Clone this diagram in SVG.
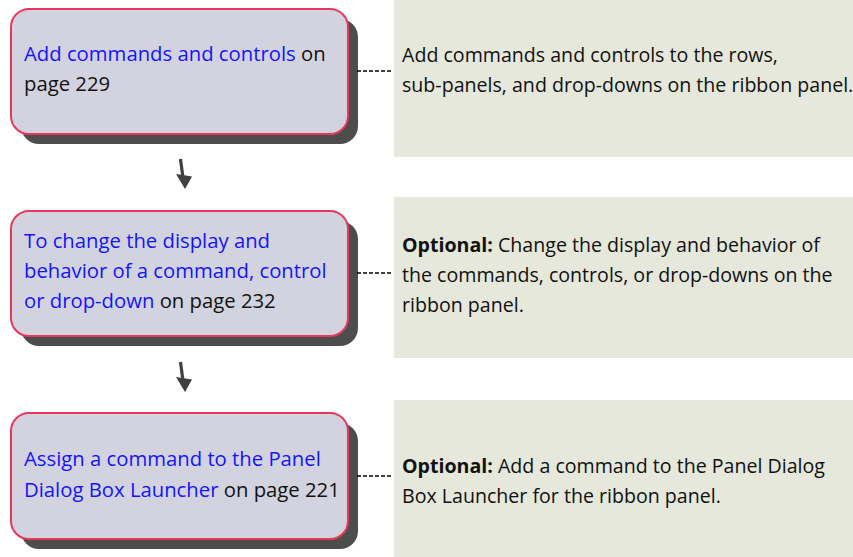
<svg xmlns="http://www.w3.org/2000/svg" width="853" height="557" viewBox="0 0 853 557">
<defs>
<style>
.shadow{fill:#4d4d4d}
.box{fill:#d3d3df;stroke:#e6385c;stroke-width:2}
.panel{fill:#e5e8da}
.t{font-family:"Open Sans","Liberation Sans",sans-serif;font-size:20px;fill:#111}
.bt{font-size:20.3px}
.pt{font-size:19.6px}
.lnk{fill:#1414ff}
.b{font-weight:bold}
.dash{stroke:#000;stroke-width:1.5;stroke-dasharray:4 2;fill:none}
.arr{stroke:#404040;stroke-width:3.2;fill:none}
.head{fill:#404040}
</style>
</defs>
<rect width="853" height="557" fill="#fff"/>
<g id="panel1"><rect class="panel" x="394" y="0" width="459" height="157"/>
<text class="t pt" x="402" y="62">Add commands and controls to the rows,</text>
<text class="t pt" x="402" y="92">sub-panels, and drop-downs on the ribbon panel.</text></g>
<g id="panel2"><rect class="panel" x="394" y="197" width="459" height="161"/>
<text class="t pt" x="402" y="252"><tspan class="b">Optional:</tspan> Change the display and behavior of</text>
<text class="t pt" x="402" y="282">the commands, controls, or drop-downs on the</text>
<text class="t pt" x="402" y="312">ribbon panel.</text></g>
<g id="panel3"><rect class="panel" x="394" y="400" width="459" height="157"/>
<text class="t pt" x="402" y="473"><tspan class="b">Optional:</tspan> Add a command to the Panel Dialog</text>
<text class="t pt" x="402" y="503">Box Launcher for the ribbon panel.</text></g>
<g id="node1"><rect class="shadow" x="21" y="19" width="337" height="125" rx="18"/>
<rect class="box" x="11" y="9" width="337" height="125" rx="18"/>
<text class="t bt" x="24" y="61"><tspan class="lnk">Add commands and controls</tspan> on</text>
<text class="t bt" x="24" y="91">page 229</text></g>
<g id="node2"><rect class="shadow" x="21" y="221" width="337" height="125" rx="18"/>
<rect class="box" x="11" y="211" width="337" height="125" rx="18"/>
<text class="t bt" x="24" y="248"><tspan class="lnk">To change the display and</tspan></text>
<text class="t bt" x="24" y="278"><tspan class="lnk">behavior of a command, control</tspan></text>
<text class="t bt" x="24" y="308"><tspan class="lnk">or drop-down</tspan> on page 232</text></g>
<g id="node3"><rect class="shadow" x="21" y="423" width="337" height="126" rx="18"/>
<rect class="box" x="11" y="413" width="337" height="126" rx="18"/>
<text class="t bt" x="24" y="466"><tspan class="lnk">Assign a command to the Panel</tspan></text>
<text class="t bt" x="24" y="497"><tspan class="lnk">Dialog Box Launcher</tspan> on page 221</text></g>
<g id="connectors">
<line class="dash" x1="357" y1="71" x2="392" y2="71"/>
<line class="dash" x1="357" y1="273" x2="392" y2="273"/>
<line class="dash" x1="357" y1="476" x2="392" y2="476"/>
<line class="arr" x1="180.5" y1="159" x2="183" y2="178"/>
<polygon class="head" points="176,174 192,176.5 185,189"/>
<line class="arr" x1="180.5" y1="362" x2="183" y2="381"/>
<polygon class="head" points="176,377 192,379.5 185,392"/>
</g>
</svg>
